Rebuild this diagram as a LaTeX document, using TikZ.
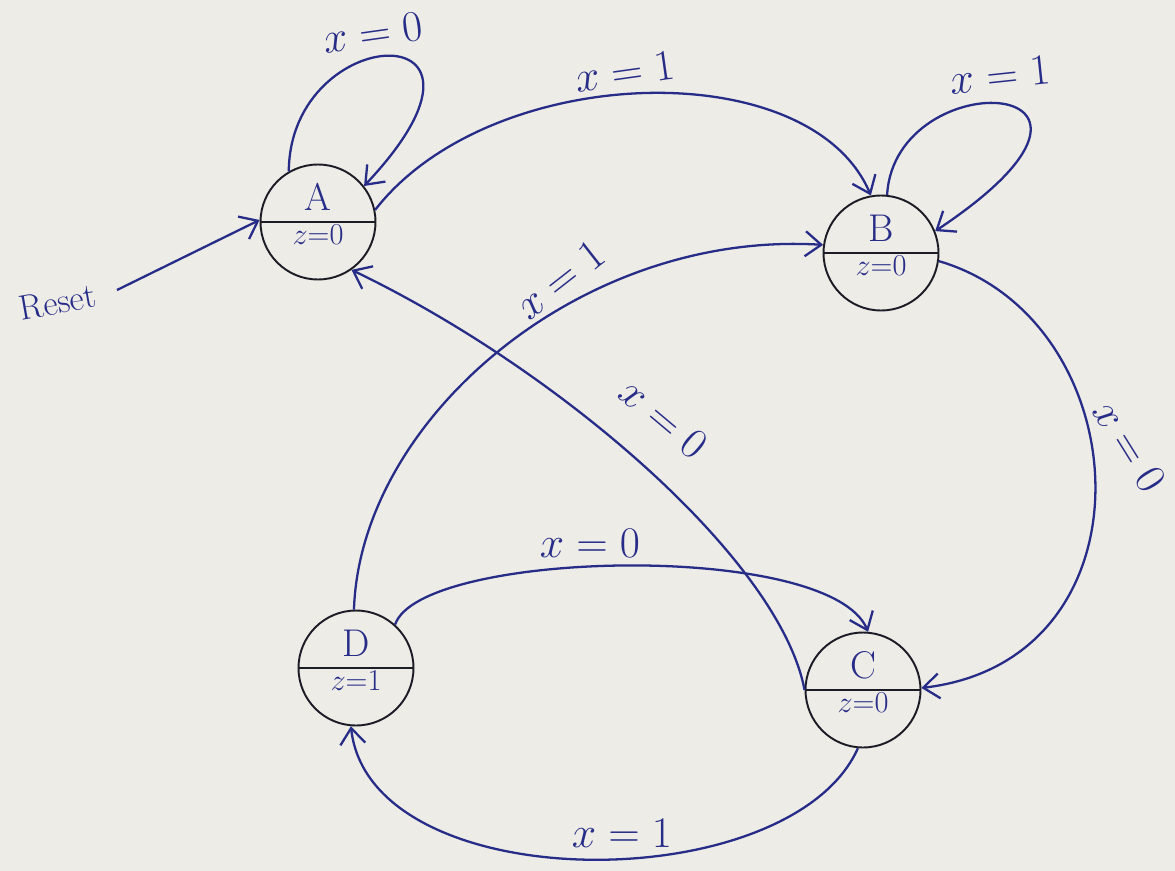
\documentclass[tikz,border=0pt]{standalone}
\usetikzlibrary{arrows.meta,shapes.multipart}
\definecolor{paper}{RGB}{238,236,230}
\definecolor{ink}{RGB}{38,44,135}
\definecolor{pen}{RGB}{28,28,38}
\newcommand{\lowtxt}{\fontsize{18}{20}\selectfont}
\newcommand{\uptxt}[1]{\raisebox{5pt}{#1}}
\tikzset{
  statenode/.style={circle split, draw=pen, line width=1.1pt, minimum size=2.3cm, inner sep=1pt,
    font=\fontsize{22}{24}\selectfont, text=ink},
  trans/.style={draw=ink, line width=1.3pt, -{Straight Barb[length=3.2mm,width=5mm,line width=1.3pt]}},
  lbl/.style={text=ink, font=\fontsize{24}{28}\selectfont, inner sep=1pt}
}
\begin{document}
\begin{tikzpicture}[x=0.02cm,y=-0.02cm]
\fill[paper] (0,0) rectangle (1175,871);
\useasboundingbox (0,0) rectangle (1175,871);

\node[statenode] (A) at (318,222) {\uptxt{A}\nodepart{lower}{\lowtxt $z{=}0$}};
\node[statenode] (B) at (881,253) {\uptxt{B}\nodepart{lower}{\lowtxt $z{=}0$}};
\node[statenode] (C) at (863,690) {\uptxt{C}\nodepart{lower}{\lowtxt $z{=}0$}};
\node[statenode] (D) at (356,668) {\uptxt{D}\nodepart{lower}{\lowtxt $z{=}1$}};

\coordinate (R) at (117,290);
\node[text=ink, font=\fontsize{20}{22}\selectfont, rotate=10] (Rl) at (58,302) {Reset};
\draw[trans] (R) -- (A.178);

% A self loop
\draw[trans] (A.120) .. controls (290,20) and (530,10) .. (A.38);
\node[lbl, rotate=8] (lAA) at (373,33) {$x=0$};

% A -> B
\draw[trans] (A.12) .. controls (490,62) and (810,52) .. (B.100);
\node[lbl, rotate=8] (lAB) at (625,72) {$x=1$};

% B self loop
\draw[trans] (B.84) .. controls (895,60) and (1170,75) .. (B.22);
\node[lbl, rotate=6] (lBB) at (1000,75) {$x=1$};

% D -> B
\draw[trans] (D.92) .. controls (360,420) and (580,230) .. (B.172);
\node[lbl, rotate=38] (lDB) at (560,280) {$x=1$};

% C -> A
\draw[trans] (C.180) .. controls (780,560) and (560,370) .. (A.-55);
\node[lbl, rotate=-40] (lCA) at (664,418) {$x=0$};

% B -> C
\draw[trans] (B.-8) .. controls (1140,320) and (1160,660) .. (C.2);
\node[lbl, rotate=-58] (lBC) at (1130,446) {$x=0$};

% D -> C
\draw[trans] (D.48) .. controls (420,550) and (830,540) .. (C.85);
\node[lbl] (lDC) at (590,543) {$x=0$};

% C -> D
\draw[trans] (C.-95) .. controls (790,900) and (370,900) .. (D.-95);
\node[lbl] (lCD) at (622,833) {$x=1$};
\end{tikzpicture}
\end{document}
